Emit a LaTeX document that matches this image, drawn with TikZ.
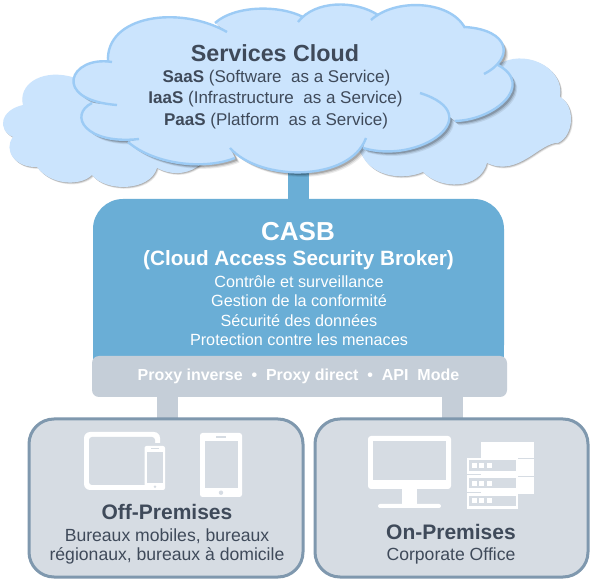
\documentclass[tikz,border=0pt]{standalone}
\usepackage{fontspec}
\setmainfont{Liberation Sans}
\definecolor{cloudfill}{HTML}{CBE4FD}
\definecolor{cloudline}{HTML}{9CCBF5}
\definecolor{casbblue}{HTML}{6AAED6}
\definecolor{proxygray}{HTML}{C5CED8}
\definecolor{boxfill}{HTML}{D6DCE3}
\definecolor{boxline}{HTML}{7F98AE}
\definecolor{ink}{HTML}{3F4A5A}
\newcommand{\fs}[1]{\fontsize{#1}{#1}\selectfont}
\newcommand{\bumpA}{(227,32) .. controls (180,5) and (105,15) .. (108,62)}
\newcommand{\bumpB}{(112,62) .. controls (70,55) and (50,100) .. (117,105)}
\newcommand{\bumpC}{(92,103) .. controls (68,115) and (85,145) .. (139,139)}
\newcommand{\bumpD}{(128,142) .. controls (155,165) and (205,170) .. (235,158)}
\newcommand{\bumpE}{(230,148) .. controls (260,182) and (350,182) .. (366,138)}
\newcommand{\bumpF}{(363,148) .. controls (420,165) and (490,115) .. (420,93)}
\newcommand{\bumpG}{(455,121) .. controls (495,120) and (535,85) .. (498,65)}
\newcommand{\bumpH}{(484,74) .. controls (515,58) and (510,30) .. (465,27)}
\newcommand{\bumpI}{(465,28) .. controls (450,0) and (395,-2) .. (371,20)}
\newcommand{\bumpJ}{(378,15) .. controls (355,0) and (315,0) .. (298,22)}
\newcommand{\bumpK}{(303,17) .. controls (280,5) and (235,5) .. (215,23)}
\edef\frontpath{\bumpA -- \bumpB -- \bumpC -- \bumpD -- \bumpE -- \bumpF -- \bumpG -- \bumpH -- \bumpI -- \bumpJ -- \bumpK -- cycle}
\newcommand{\backleft}{(68,76) .. controls (40,70) and (18,85) .. (23,105) .. controls (0,110) and (-3,130) .. (13,137) .. controls (3,150) and (15,168) .. (37,167) .. controls (50,185) and (80,187) .. (92,175) .. controls (105,192) and (150,192) .. (157,168) .. controls (170,175) and (185,175) .. (197,167) -- (250,120) -- cycle}
\newcommand{\backright}{(503,62) .. controls (530,50) and (565,70) .. (560,97) .. controls (575,105) and (575,135) .. (558,143) .. controls (540,142) and (518,178) .. (487,163) .. controls (480,190) and (440,190) .. (423,172) .. controls (405,180) and (375,178) .. (363,157) -- (330,100) -- cycle}
\tikzset{
  x=1pt,y=-1pt,
  label text/.style={align=center,inner sep=0pt,text=ink},
  white text/.style={align=center,inner sep=0pt,text=white},
  casb box/.style={fill=casbblue,rounded corners=30pt},
  proxy bar/.style={fill=proxygray,rounded corners=7pt},
  site box/.style={fill=boxfill,draw=boxline,line width=3pt,rounded corners=25pt},
  link/.style={line width=21pt,line cap=butt},
  arc line/.style={draw=cloudline,line width=2.4pt,line cap=butt},
  icon/.style={fill=white},
  hole/.style={fill=boxfill},
}
\begin{document}
\begin{tikzpicture}
\useasboundingbox (0,0) rectangle (590,580);
\fill[white] (0,0) rectangle (590,580);
% named anchors
\coordinate (cloudfoot) at (298,165);
\coordinate (casbtop) at (298,205);
\coordinate (proxyleft) at (167.5,390);
\coordinate (proxyright) at (452,390);
\coordinate (offtop) at (167.5,425);
\coordinate (ontop) at (452,425);
% connectors
\draw[link,casbblue] (cloudfoot) -- (casbtop);
\draw[link,proxygray] (proxyleft) -- (offtop);
\draw[link,proxygray] (proxyright) -- (ontop);
% back clouds
\foreach \o/\s in {0.08/1.8,0.12/1.2,0.16/0.6}{
  \fill[black,opacity=\o,shift={(\s,\s)}] \backleft;
  \fill[black,opacity=\o,shift={(\s,\s)}] \backright;
}
\fill[cloudfill] \backleft;
\fill[cloudfill] \backright;
% front cloud
\foreach \o/\s in {0.08/4.5,0.12/3.5,0.18/2.5}{
  \fill[black,opacity=\o,shift={(\s,\s)}] \frontpath;
}
\fill[cloudfill] \frontpath;
\foreach \b in {\bumpA,\bumpB,\bumpC,\bumpD,\bumpE,\bumpF,\bumpG,\bumpH,\bumpI,\bumpJ,\bumpK}{
  \draw[arc line] \b;
}
% cloud text
\node[label text,font=\fs{23.3}\bfseries] (cloudtitle) at (275,53) {Services Cloud};
\node[label text,font=\fs{17}] (saas) at (276.5,78) {\textbf{SaaS} (Software\ \ as a Service)};
\node[label text,font=\fs{17}] (iaas) at (275.5,99.5) {\textbf{IaaS} (Infrastructure\ \ as a Service)};
\node[label text,font=\fs{17}] (paas) at (276,121) {\textbf{PaaS} (Platform\ \ as a Service)};
% CASB
\fill[casb box] (93,199) rectangle (504,375);
\fill[casbblue] (93,300) rectangle (504,375);
\node[white text,font=\fs{26}\bfseries] (casb) at (298,231.5) {CASB};
\node[white text,font=\fs{20.7}\bfseries] (casbname) at (298.5,260) {(Cloud Access Security Broker)};
\node[white text,font=\fs{16.2}] (f1) at (299,281.5) {Contrôle et surveillance};
\node[white text,font=\fs{16.2}] (f2) at (299,300.5) {Gestion de la conformité};
\node[white text,font=\fs{16.2}] (f3) at (299,320.5) {Sécurité des données};
\node[white text,font=\fs{16.2}] (f4) at (299,339.5) {Protection contre les menaces};
% proxy
\fill[proxy bar] (92,356) rectangle (507,397);
\node[white text,font=\fs{16}\bfseries] (proxy) at (298.5,376) {Proxy inverse\ \ •\ \ Proxy direct\ \ •\ \ API\ \ Mode};
% site boxes
\draw[site box] (29,419) rectangle (303,577);
\draw[site box] (315,419) rectangle (588,577);
\node[label text,font=\fs{21}\bfseries] (off) at (167,512) {Off-Premises};
\node[label text,font=\fs{17.6}] (off1) at (167,536) {Bureaux mobiles, bureaux};
\node[label text,font=\fs{17.6}] (off2) at (167,556) {régionaux, bureaux à domicile};
\node[label text,font=\fs{21}\bfseries] (on) at (451,532) {On-Premises};
\node[label text,font=\fs{17.6}] (on1) at (451,556) {Corporate Office};
% tablet + phone
\fill[icon,rounded corners=6pt] (84,432) rectangle (160,490);
\fill[hole,rounded corners=3pt] (89,437) rectangle (155,485);
\fill[hole] (150,443) rectangle (167,492);
\fill[icon,rounded corners=2pt] (144.5,446) rectangle (165,490);
\fill[hole] (146.5,452) rectangle (163,483);
\fill[hole] (150.5,448) rectangle (159,449.3);
\fill[hole] (155,486.7) circle (1.4);
% tablet
\fill[icon,rounded corners=2.5pt] (200,433) rectangle (242,497);
\fill[hole] (204.5,441) rectangle (237.5,488);
\fill[hole] (216,436.5) rectangle (226,438.5);
\fill[hole] (221,492.7) circle (2.2);
% monitor
\fill[icon,rounded corners=3pt] (368,436) rectangle (451,489);
\fill[hole] (373,441) rectangle (446,480);
\fill[icon] (402,488) rectangle (417,504);
\fill[icon,rounded corners=2pt] (378,504) rectangle (441,508);
% servers
\fill[icon] (481,442) rectangle (534,494);
\fill[hole] (518,458.5) rectangle (534,459.5);
\fill[hole] (518,476.5) rectangle (534,477.5);
\fill[hole] (465,456) rectangle (481,458);
\fill[icon] (467,458) rectangle (518,509);
\fill[hole] (469,460.5) rectangle (516,471);
\fill[hole] (469,478.5) rectangle (516,488.5);
\fill[hole] (469,496) rectangle (516,506);
\fill[hole] (467,474.5) rectangle (481,475.5);
\fill[hole] (467,492.5) rectangle (481,493.5);
\foreach \yy in {465.5,483.5,501}{
  \foreach \xx in {474.5,481.5,489}{
    \fill[icon] (\xx-2.5,\yy-2.5) rectangle (\xx+2.5,\yy+2.5);
  }
}
\end{tikzpicture}
\end{document}
